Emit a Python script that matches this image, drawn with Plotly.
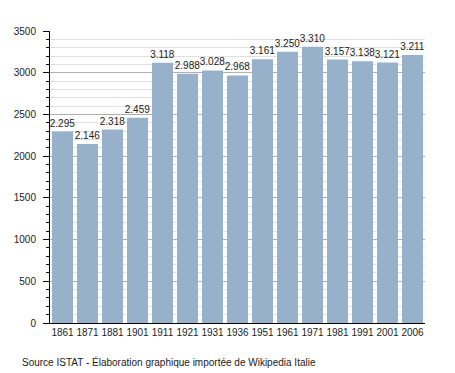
import plotly.graph_objects as go

years = ["1861", "1871", "1881", "1901", "1911", "1921", "1931", "1936",
         "1951", "1961", "1971", "1981", "1991", "2001", "2006"]
population = [2295, 2146, 2318, 2459, 3118, 2988, 3028, 2968,
              3161, 3250, 3310, 3157, 3138, 3121, 3211]
labels = [f"{v:,}".replace(",", ".") for v in population]
source_text = "Source ISTAT - Élaboration graphique importée de Wikipedia Italie"

fig = go.Figure(go.Bar(
    x=years, y=population, text=labels, textposition="outside",
    textfont=dict(size=10, color="#222"), cliponaxis=False,
    constraintext="none",
    marker=dict(color="#97b1cb", line=dict(width=0)),
))

fig.update_layout(
    width=447, height=365,
    margin=dict(l=42, r=30, t=23, b=50, autoexpand=False),
    paper_bgcolor="white", plot_bgcolor="white",
    font=dict(family="Liberation Sans, Arial, sans-serif", size=10, color="#222"),
    bargap=0.16, showlegend=False,
    annotations=[dict(text=source_text, xref="x domain", yref="y domain",
                      x=-30 / 375, y=-39 / 292,
                      xanchor="left", yanchor="middle", showarrow=False,
                      font=dict(size=10, color="#222"))],
)

fig.update_xaxes(type="category", showline=True, linecolor="black", linewidth=1,
                 ticks="", showgrid=False, tickfont=dict(size=10))
fig.update_yaxes(range=[0, 3500], dtick=500, showline=True, linecolor="black", linewidth=1,
                 ticks="outside", ticklen=6, tickcolor="black", ticklabelstandoff=5,
                 gridcolor="#b0b0b0", gridwidth=1, zeroline=False,
                 tickfont=dict(size=10),
                 minor=dict(dtick=100, ticks="outside", ticklen=3, tickcolor="black",
                            showgrid=True, gridcolor="#e0e0e0", gridwidth=1))

fig.write_html("out.html")
